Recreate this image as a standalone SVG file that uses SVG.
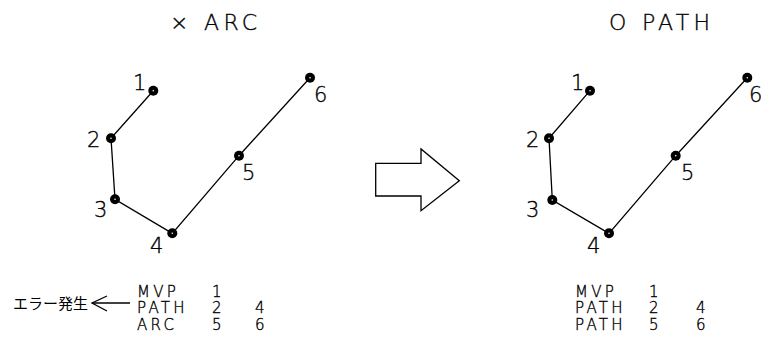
<svg xmlns="http://www.w3.org/2000/svg" width="761" height="347" viewBox="0 0 761 347">
<style>
.t{font-family:"DejaVu Sans","Liberation Sans",sans-serif;fill:#000;stroke:#000;stroke-width:0.35;font-weight:200}
.ttl{font-size:22px;letter-spacing:4.3px}
.num{font-size:21px}
.lst{font-size:15px;letter-spacing:3.3px}
.jp{font-family:"Liberation Sans","Noto Sans CJK JP",sans-serif;font-size:15px;font-weight:normal;fill:#000}
.ln{stroke:#000;stroke-width:1.3;fill:none}
.dot{fill:#000}
.ctr{fill:#fff}
</style>
<rect width="761" height="347" fill="#fff"/>
<g id="connectors">
<polyline class="ln" points="153.3,90.7 111,138.3 115,199.3 172.3,233.3 239,155.7 310,77.7"/>
<polyline class="ln" points="590,90.7 549,138.3 552.3,200 609,233.3 675.7,155.7 747.3,77.7"/>
<polyline class="ln" points="130,303 92,303"/>
<polyline class="ln" points="107,296 92,303 107,311"/>
</g>
<g id="big-arrow">
<polygon class="ln" points="375.7,163.3 421,163.3 421,149 459.3,180.7 421,210.7 421,196 375.7,196"/>
</g>
<g id="left-title"><text class="t ttl" x="170" y="30">× ARC</text></g>
<g id="right-title"><text class="t ttl" x="609" y="30">O PATH</text></g>
<g id="left-nodes">
<g id="L1"><circle class="dot" cx="153.3" cy="90.7" r="5"/><circle class="ctr" cx="153.3" cy="90.7" r="0.8"/><text class="t num" x="133" y="90">1</text></g>
<g id="L2"><circle class="dot" cx="111" cy="138.3" r="5"/><circle class="ctr" cx="111" cy="138.3" r="0.8"/><text class="t num" x="87" y="147">2</text></g>
<g id="L3"><circle class="dot" cx="115" cy="199.3" r="5"/><circle class="ctr" cx="115" cy="199.3" r="0.8"/><text class="t num" x="94" y="217">3</text></g>
<g id="L4"><circle class="dot" cx="172.3" cy="233.3" r="5"/><circle class="ctr" cx="172.3" cy="233.3" r="0.8"/><text class="t num" x="150" y="253">4</text></g>
<g id="L5"><circle class="dot" cx="239" cy="155.7" r="5"/><circle class="ctr" cx="239" cy="155.7" r="0.8"/><text class="t num" x="242" y="180">5</text></g>
<g id="L6"><circle class="dot" cx="310" cy="77.7" r="5"/><circle class="ctr" cx="310" cy="77.7" r="0.8"/><text class="t num" x="314" y="102">6</text></g>
</g>
<g id="right-nodes">
<g id="R1"><circle class="dot" cx="590" cy="90.7" r="5"/><circle class="ctr" cx="590" cy="90.7" r="0.8"/><text class="t num" x="571" y="90">1</text></g>
<g id="R2"><circle class="dot" cx="549" cy="138.3" r="5"/><circle class="ctr" cx="549" cy="138.3" r="0.8"/><text class="t num" x="526" y="147">2</text></g>
<g id="R3"><circle class="dot" cx="552.3" cy="200" r="5"/><circle class="ctr" cx="552.3" cy="200" r="0.8"/><text class="t num" x="526" y="217">3</text></g>
<g id="R4"><circle class="dot" cx="609" cy="233.3" r="5"/><circle class="ctr" cx="609" cy="233.3" r="0.8"/><text class="t num" x="587" y="253">4</text></g>
<g id="R5"><circle class="dot" cx="675.7" cy="155.7" r="5"/><circle class="ctr" cx="675.7" cy="155.7" r="0.8"/><text class="t num" x="681" y="180">5</text></g>
<g id="R6"><circle class="dot" cx="747.3" cy="77.7" r="5"/><circle class="ctr" cx="747.3" cy="77.7" r="0.8"/><text class="t num" x="749" y="102" font-size="19">6</text></g>
</g>
<g id="left-list">
<text class="t lst" x="137" y="296.5">MVP</text><text class="t lst" x="212" y="296.5">1</text>
<text class="t lst" x="137" y="313">PATH</text><text class="t lst" x="212" y="313">2</text><text class="t lst" x="255" y="313">4</text>
<text class="t lst" x="137" y="329.5">ARC</text><text class="t lst" x="212" y="329.5">5</text><text class="t lst" x="255" y="329.5">6</text>
</g>
<g id="error-label"><text class="jp" x="13" y="309">エラー発生</text></g>
<g id="right-list">
<text class="t lst" x="575" y="296.5">MVP</text><text class="t lst" x="649" y="296.5">1</text>
<text class="t lst" x="575" y="313">PATH</text><text class="t lst" x="649" y="313">2</text><text class="t lst" x="696" y="313">4</text>
<text class="t lst" x="575" y="329.5">PATH</text><text class="t lst" x="649" y="329.5">5</text><text class="t lst" x="696" y="329.5">6</text>
</g>
</svg>
